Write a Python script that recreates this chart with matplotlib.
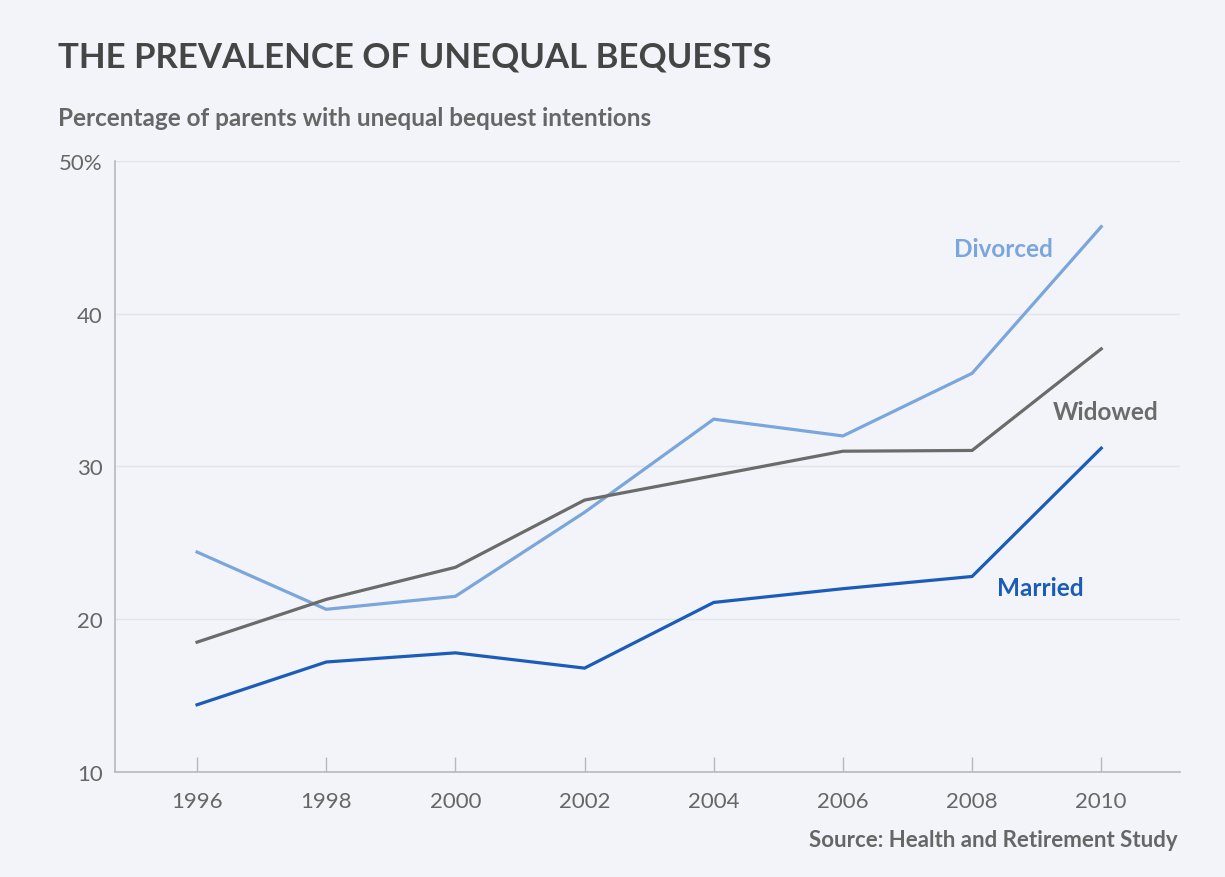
import matplotlib
matplotlib.use("Agg")

import matplotlib.pyplot as plt

# ---- data ----
years = [1996, 1998, 2000, 2002, 2004, 2006, 2008, 2010]
divorced = [24.4, 20.65, 21.5, 27.0, 33.1, 32.0, 36.1, 45.7]
widowed = [18.5, 21.3, 23.4, 27.8, 29.4, 31.0, 31.05, 37.7]
married = [14.4, 17.2, 17.8, 16.8, 21.1, 22.0, 22.8, 31.2]
yticks = [10, 20, 30, 40, 50]
ytick_labels = ["10", "20", "30", "40", "50%"]

BG = "#f3f4f9"
C_DIV = "#7aa6dc"
C_WID = "#6b6b6b"
C_MAR = "#1a5cb8"
TXT = "#454545"
SUB = "#666666"

plt.rcParams["font.family"] = ["Lato", "DejaVu Sans"]

fig = plt.figure(figsize=(12.25, 8.78), dpi=100, facecolor=BG)
ax = fig.add_axes([0.0939, 0.1196, 0.8694, 0.6959], facecolor=BG)

ax.plot(years, divorced, color=C_DIV, lw=2.3, solid_joinstyle="miter")
ax.plot(years, widowed, color=C_WID, lw=2.3, solid_joinstyle="miter")
ax.plot(years, married, color=C_MAR, lw=2.3, solid_joinstyle="miter")

ax.set_xlim(1994.73, 2011.22)
ax.set_ylim(10, 50)

ax.set_yticks(yticks)
ax.set_yticklabels(ytick_labels)
ax.set_xticks(years)
ax.set_xticklabels([str(y) for y in years])

ax.grid(axis="y", color="#e3e4ea", lw=1.0)
ax.set_axisbelow(True)
for s in ["top", "right"]:
    ax.spines[s].set_visible(False)
for s in ["left", "bottom"]:
    ax.spines[s].set_color("#b8b8bc")
    ax.spines[s].set_linewidth(1.2)

ax.tick_params(axis="y", length=0, pad=9, labelsize=16, labelcolor=SUB)
ax.tick_params(axis="x", direction="in", length=11, width=1, color="#b8b8bc",
               pad=14, labelsize=16, labelcolor=SUB)

# series labels
ax.text(2008.48, 44.3, "Divorced", color=C_DIV, fontsize=17.5, fontweight="bold",
        ha="center", va="center")
ax.text(2010.07, 33.6, "Widowed", color=C_WID, fontsize=17.5, fontweight="bold",
        ha="center", va="center")
ax.text(2009.05, 22.1, "Married", color=C_MAR, fontsize=17.5, fontweight="bold",
        ha="center", va="center")

# titles
fig.text(58 / 1225, 1 - 58 / 878, "THE PREVALENCE OF UNEQUAL BEQUESTS",
         color=TXT, fontsize=25, fontweight="bold", ha="left", va="center")
fig.text(58 / 1225, 1 - 118 / 878, "Percentage of parents with unequal bequest intentions",
         color=SUB, fontsize=17.5, fontweight="bold", ha="left", va="center")
fig.text(1178 / 1225, 1 - 841 / 878, "Source: Health and Retirement Study",
         color=SUB, fontsize=16, fontweight="bold", ha="right", va="center")

fig.savefig("out.png", dpi=100, facecolor=BG)
plt.close(fig)
